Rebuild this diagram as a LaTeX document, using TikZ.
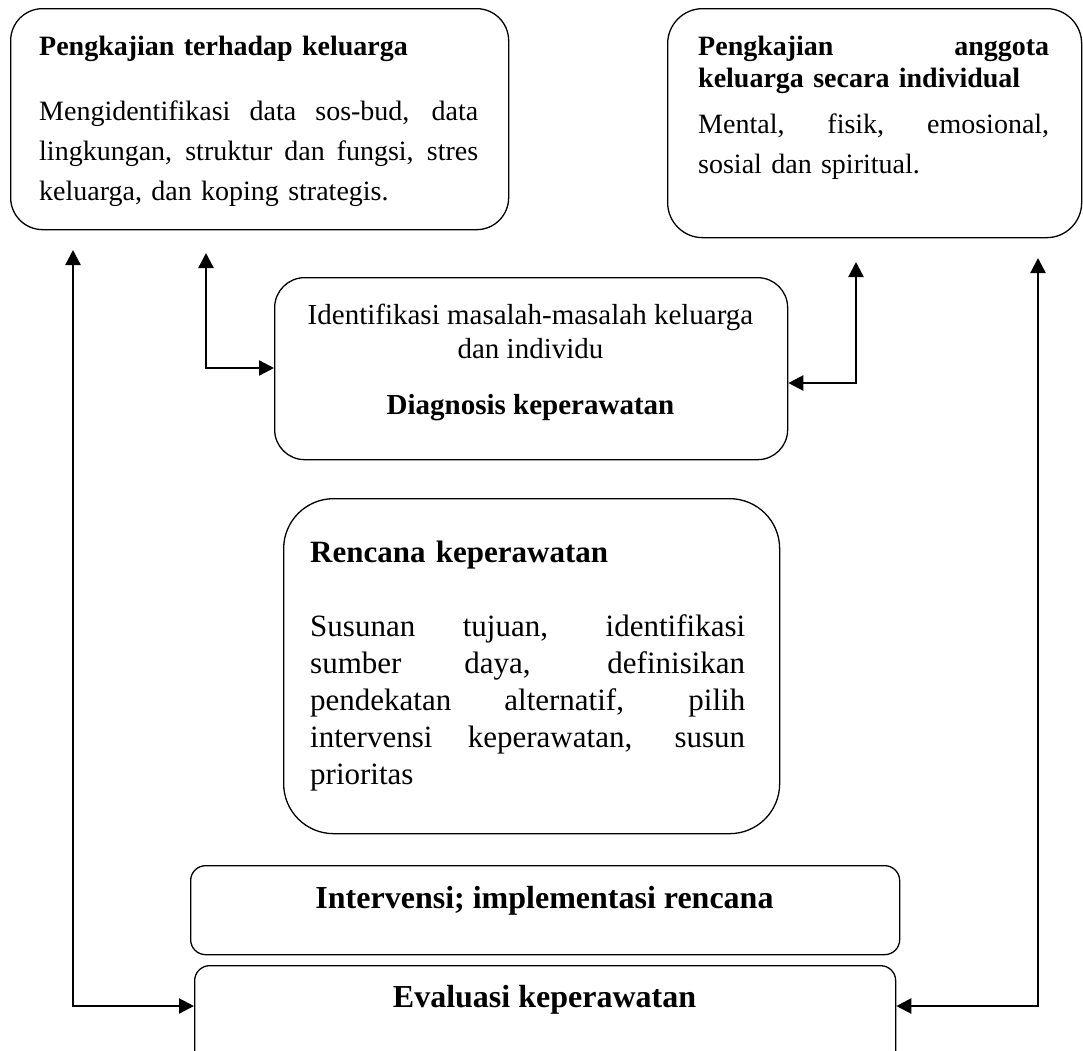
\documentclass[tikz,border=0pt]{standalone}
\usepackage{fontspec}
\setmainfont{Liberation Serif}
\usetikzlibrary{arrows.meta}

\newcommand{\rata}[1]{\makebox[\hsize][s]{\spaceskip=0pt\xspaceskip=0pt\relax #1}}

\begin{document}
\begin{tikzpicture}[x=1pt,y=-1pt,
  kotak/.style={draw,line width=1.3pt,inner sep=0pt,anchor=north west},
  teks/.style={inner sep=0pt,align=left},
  panah/.style={line width=2.3pt,{Triangle[length=15pt,width=15pt]}-{Triangle[length=15pt,width=15pt]}}]
  \useasboundingbox (0,0) rectangle (1083,1050);
  \clip (0,0) rectangle (1083,1050);

  \node[kotak,rounded corners=32pt,minimum width=498pt,minimum height=221pt] (kel) at (10,8) {};
  \node[kotak,rounded corners=35pt,minimum width=414pt,minimum height=229pt] (ind) at (667,8) {};
  \node[kotak,rounded corners=30pt,minimum width=513pt,minimum height=182pt] (diag) at (274,277) {};
  \node[kotak,rounded corners=50pt,minimum width=496pt,minimum height=335pt] (renc) at (283,498) {};
  \node[kotak,rounded corners=15pt,minimum width=709pt,minimum height=89pt] (interv) at (190,865) {};
  \node[kotak,rounded corners=15pt,minimum width=701pt,minimum height=120pt] (eval) at (194,965) {};

  % isi kotak
  \node[teks,anchor=north west,text width=439pt,font=\fontsize{28}{40}\selectfont] (kelteks) at (39,35.5)
    {\textbf{Pengkajian terhadap keluarga}\\[25pt]
     \rata{Mengidentifikasi data sos-bud, data}\\
     \rata{lingkungan, struktur dan fungsi, stres}\\
     keluarga, dan koping strategis.};
  \node[teks,anchor=north west,text width=351pt,font=\fontsize{28}{32}\selectfont] (indteks) at (698,35.5)
    {\rata{\textbf{Pengkajian anggota}}\\
     \textbf{keluarga secara individual}\\[14pt]
     \rata{Mental, fisik, emosional,}\\[8pt]
     sosial dan spiritual.};
  \node[teks,align=center,anchor=north,font=\fontsize{29}{34}\selectfont] (diagteks) at (530.5,304)
    {Identifikasi masalah-masalah keluarga\\ dan individu\\[22pt] \textbf{Diagnosis keperawatan}};
  \node[teks,anchor=north west,text width=435pt,font=\fontsize{31}{37}\selectfont] (rencteks) at (310,541)
    {\textbf{Rencana keperawatan}\\[37pt]
     \rata{Susunan tujuan, identifikasi}\\
     \rata{sumber daya, definisikan}\\
     \rata{pendekatan alternatif, pilih}\\
     \rata{intervensi keperawatan, susun}\\
     prioritas};
  \node[teks,anchor=base,font=\bfseries\fontsize{32}{38}\selectfont] (intervteks) at (544.5,908) {Intervensi; implementasi rencana};
  \node[teks,anchor=base,font=\bfseries\fontsize{32}{38}\selectfont] (evalteks) at (544.5,1007) {Evaluasi keperawatan};

  \coordinate (ka) at (73,250);   \coordinate (kb) at (73,1006);
  \coordinate (da) at (206,253);  \coordinate (db) at (206,368);
  \coordinate (ia) at (856,262);  \coordinate (ib) at (856,383);
  \coordinate (ea) at (1038,258); \coordinate (eb) at (1038,1006);
  \draw[panah] (ka) -- (kb) -- (kb -| eval.west);
  \draw[panah] (da) -- (db) -- (db -| diag.west);
  \draw[panah] (ia) -- (ib) -- (ib -| diag.east);
  \draw[panah] (ea) -- (eb) -- (eb -| eval.east);
\end{tikzpicture}
\end{document}
